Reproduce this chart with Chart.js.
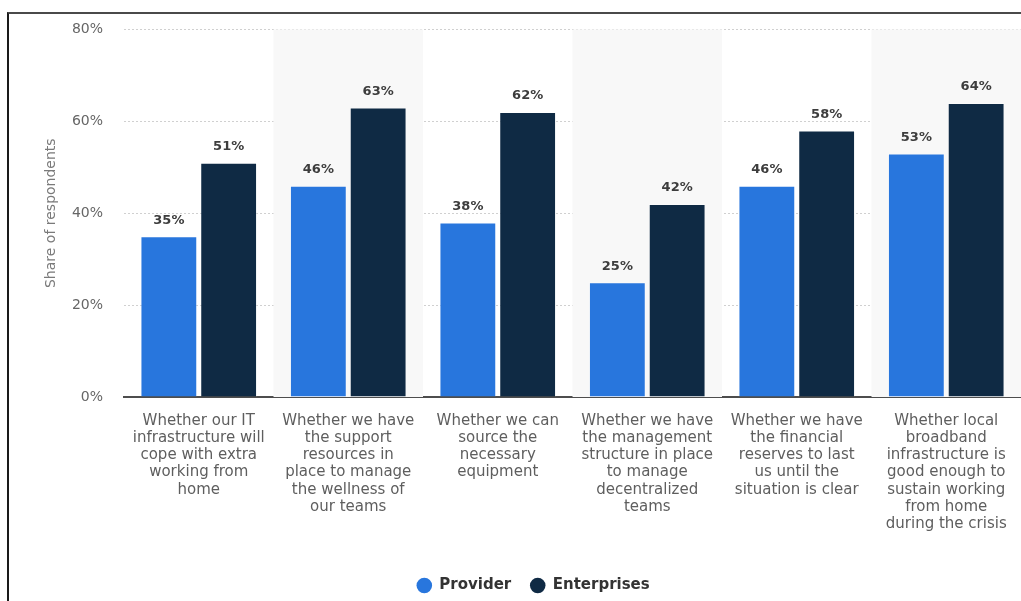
<!DOCTYPE html>
<html>
<head>
<meta charset="utf-8">
<script src="https://cdn.jsdelivr.net/npm/chart.js@4/dist/chart.umd.min.js"></script>
<style>
  html, body { margin: 0; padding: 0; background: #ffffff; }
  #wrap { position: relative; width: 1021px; height: 601px; overflow: hidden; }
  #frame {
    position: absolute; left: 7px; top: 12px; right: -4px; bottom: -4px;
    border-top: 2px solid #4a4a4a; border-left: 2px solid #1a1a1a;
    pointer-events: none;
  }
  canvas { position: absolute; left: 0; top: 0; }
</style>
</head>
<body>
<div id="wrap">
  <canvas id="chart" width="1021" height="601"></canvas>
  <div id="frame"></div>
</div>
<script>
// Survey categories (multi-line axis labels)
const categories = [
  ["Whether our IT", "infrastructure will", "cope with extra", "working from", "home"],
  ["Whether we have", "the support", "resources in", "place to manage", "the wellness of", "our teams"],
  ["Whether we can", "source the", "necessary", "equipment"],
  ["Whether we have", "the management", "structure in place", "to manage", "decentralized", "teams"],
  ["Whether we have", "the financial", "reserves to last", "us until the", "situation is clear"],
  ["Whether local", "broadband", "infrastructure is", "good enough to", "sustain working", "from home", "during the crisis"]
];

// Share of respondents, in percent
const providerValues = [35, 46, 38, 25, 46, 53];
const enterpriseValues = [51, 63, 62, 42, 58, 64];

const seriesNames = ["Provider", "Enterprises"];
const yTickValues = [0, 20, 40, 60, 80];

const FONT = "'DejaVu Sans', 'Verdana', sans-serif";
Chart.defaults.font.family = FONT;

// Light shading behind every second category
const bandPlugin = {
  id: 'bands',
  beforeDatasetsDraw(chart) {
    const { ctx, chartArea, scales } = chart;
    const x = scales.x;
    const n = x.ticks.length;
    const w = (chartArea.right - chartArea.left) / n;
    ctx.save();
    ctx.fillStyle = '#f8f8f8';
    for (let i = 1; i < n; i += 2) {
      const cx = x.getPixelForValue(i);
      ctx.fillRect(cx - w / 2, chartArea.top, w, chartArea.bottom - chartArea.top);
    }
    ctx.restore();
  }
};

// Value labels above each bar
const valueLabelPlugin = {
  id: 'valueLabels',
  afterDatasetsDraw(chart) {
    const { ctx } = chart;
    ctx.save();
    ctx.font = "bold 13px " + FONT;
    ctx.fillStyle = '#3d3d3d';
    ctx.textAlign = 'center';
    ctx.textBaseline = 'middle';
    chart.data.datasets.forEach((ds, di) => {
      const meta = chart.getDatasetMeta(di);
      meta.data.forEach((bar, i) => {
        ctx.fillText(ds.data[i] + '%', bar.x, bar.y - 16);
      });
    });
    ctx.restore();
  }
};

new Chart(document.getElementById('chart'), {
  type: 'bar',
  data: {
    labels: categories,
    datasets: [
      {
        label: seriesNames[0],
        data: providerValues,
        backgroundColor: '#2876dd',
        borderColor: 'rgba(255,255,255,0.3)',
        borderWidth: 1,
        categoryPercentage: 0.8,
        barPercentage: 0.95
      },
      {
        label: seriesNames[1],
        data: enterpriseValues,
        backgroundColor: '#0f2a44',
        borderColor: 'rgba(255,255,255,0.3)',
        borderWidth: 1,
        categoryPercentage: 0.8,
        barPercentage: 0.95
      }
    ]
  },
  options: {
    responsive: false,
    animation: false,
    layout: { padding: { left: 42, right: -3.5, top: 24, bottom: -2 } },
    scales: {
      x: {
        grid: { display: false },
        border: { display: true, color: '#4d4d4d', width: 2 },
        ticks: {
          color: '#5e5e5e',
          font: { size: 15, lineHeight: 1.15 },
          padding: 7,
          maxRotation: 0,
          autoSkip: false
        },
        afterFit(scale) { scale.height = 162; }
      },
      y: {
        min: 0,
        max: 80,
        afterBuildTicks(scale) { scale.ticks = yTickValues.map(v => ({ value: v })); },
        grid: { color: '#d0d0d0', lineWidth: 1, drawTicks: false },
        border: { display: false, dash: [2, 2] },
        ticks: {
          color: '#666666',
          font: { size: 14 },
          padding: 21,
          callback: v => v + '%'
        },
        title: {
          display: true,
          text: 'Share of respondents',
          color: '#7a7a7a',
          font: { size: 14 },
          padding: { top: 1, bottom: 0 }
        },
        afterFit(scale) { scale.width = 82; }
      }
    },
    plugins: {
      legend: {
        position: 'bottom',
        labels: {
          usePointStyle: true,
          pointStyle: 'circle',
          boxHeight: 11,
          boxWidth: 15,
          padding: 19,
          color: '#333333',
          font: { size: 15, weight: 'bold' },
          generateLabels(chart) {
            const items = Chart.defaults.plugins.legend.labels.generateLabels(chart);
            items.forEach(it => { it.strokeStyle = it.fillStyle; it.lineWidth = 0; });
            return items;
          }
        }
      },
      tooltip: { enabled: false }
    }
  },
  plugins: [bandPlugin, valueLabelPlugin]
});
</script>
</body>
</html>
